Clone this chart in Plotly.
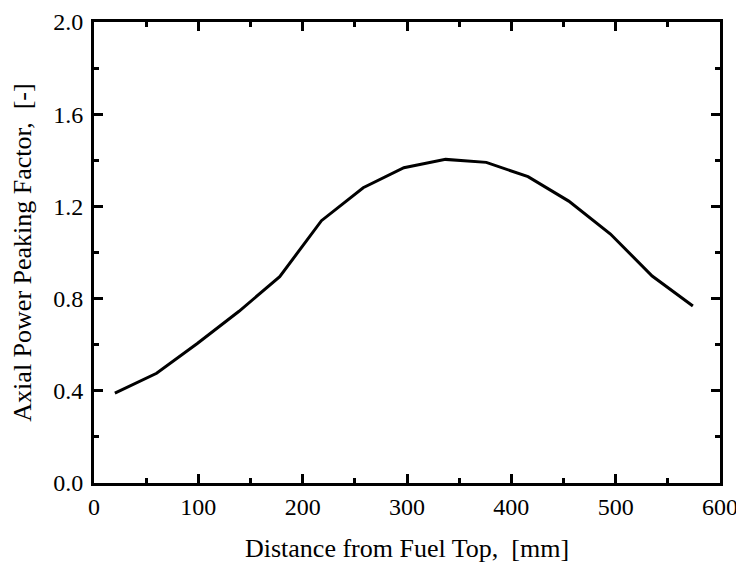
import plotly.graph_objects as go

distance_mm = [20, 60, 99, 139, 178, 218, 258, 297, 337, 376, 416, 455, 495, 535, 574]
peaking_factor = [0.39, 0.476, 0.605, 0.745, 0.895, 1.138, 1.281, 1.368, 1.404, 1.391,
                  1.329, 1.223, 1.08, 0.898, 0.768]

x_ticks = [0, 100, 200, 300, 400, 500, 600]
y_ticks = [0.0, 0.4, 0.8, 1.2, 1.6, 2.0]

font_family = "Liberation Serif, Times New Roman, serif"

fig = go.Figure()
fig.add_trace(go.Scatter(
    x=distance_mm, y=peaking_factor, mode="lines",
    line=dict(color="black", width=3), showlegend=False,
))

axis_common = dict(
    showgrid=False, zeroline=False, automargin=False,
    showline=True, linecolor="black", linewidth=3,
    mirror="allticks", ticks="inside", ticklen=9, tickwidth=3, tickcolor="black",
    tickfont=dict(family=font_family, size=24, color="black"),
)

fig.update_xaxes(
    range=[0, 600], tickvals=x_ticks,
    minor=dict(ticks="inside", ticklen=5, tickwidth=3, tickcolor="black", dtick=50, tick0=0),
    title=dict(text="Distance from Fuel Top,\u00a0\u00a0[mm]",
               font=dict(family=font_family, size=26, color="black"), standoff=21),
    **axis_common,
)
fig.update_yaxes(
    range=[0, 2.0], tickvals=y_ticks, tickformat=".1f", ticklabelstandoff=3,
    minor=dict(ticks="inside", ticklen=5, tickwidth=3, tickcolor="black", dtick=0.2, tick0=0),
    title=dict(text="Axial Power Peaking Factor,\u00a0\u00a0[-]",
               font=dict(family=font_family, size=26, color="black"), standoff=15),
    **axis_common,
)

fig.update_layout(
    width=736, height=566,
    margin=dict(l=86, r=24, t=14, b=91),
    plot_bgcolor="white", paper_bgcolor="white",
)

fig.write_html("out.html")
